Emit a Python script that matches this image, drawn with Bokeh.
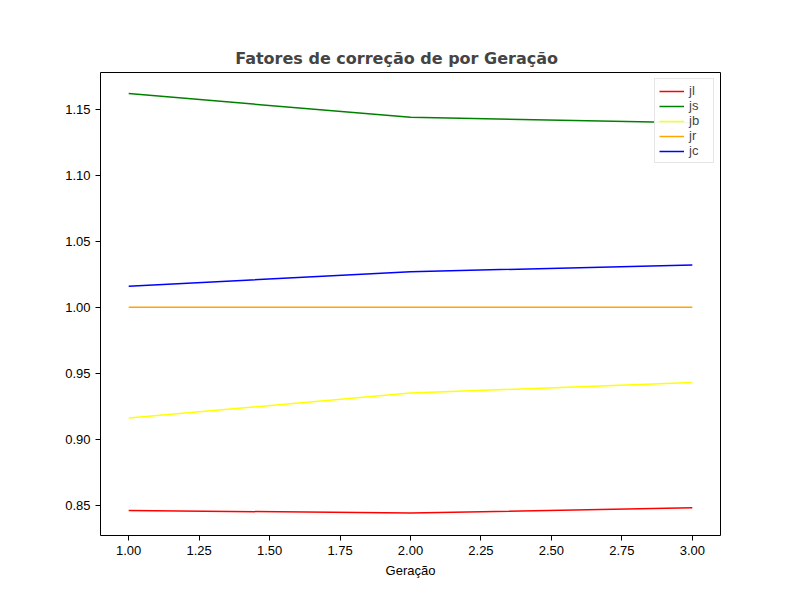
from bokeh.plotting import figure
from bokeh.models import FixedTicker, Label, Range1d, NumeralTickFormatter
from bokeh.embed import file_html
from bokeh.resources import INLINE

geracao = [1, 2, 3]
jl = [0.846, 0.844, 0.848]
js = [1.162, 1.144, 1.140]
jb = [0.916, 0.935, 0.943]
jr = [1.0, 1.0, 1.0]
jc = [1.016, 1.027, 1.032]

series = [("jl", jl, "red"), ("js", js, "green"), ("jb", jb, "yellow"),
          ("jr", jr, "orange"), ("jc", jc, "blue")]

H = 592
p = figure(width=792, height=H, output_backend="svg", toolbar_location=None,
           x_range=Range1d(0.9, 3.1), y_range=Range1d(0.827, 1.178),
           min_border_left=100, min_border_right=72, min_border_top=72, min_border_bottom=57)

for name, ys, c in series:
    p.line(geracao, ys, color=c, line_width=1.5, legend_label=name)

p.title.text = "Fatores de correção de      por Geração"
p.title.align = "center"
p.title.text_font = "DejaVu Sans"
p.title.text_font_size = "16px"
p.title.text_font_style = "bold"

p.xgrid.visible = False
p.ygrid.visible = False
p.xaxis.ticker = FixedTicker(ticks=[1, 1.25, 1.5, 1.75, 2, 2.25, 2.5, 2.75, 3])
p.yaxis.ticker = FixedTicker(ticks=[0.85, 0.9, 0.95, 1.0, 1.05, 1.1, 1.15])
p.xaxis.formatter = NumeralTickFormatter(format="0.00")
p.yaxis.formatter = NumeralTickFormatter(format="0.00")
p.xaxis.axis_label = "Geração"
p.xaxis.axis_label_text_font_style = "normal"
for ax in (p.xaxis, p.yaxis):
    ax.major_label_text_font_size = "13px"
    ax.axis_label_text_font_size = "13px"
    ax.major_label_text_color = "black"
    ax.axis_label_text_color = "black"
    ax.minor_tick_line_color = None
    ax.major_tick_out = 5
    ax.major_tick_in = 0
    ax.axis_line_color = None
p.outline_line_color = "black"

p.legend.location = "top_right"
p.legend.label_text_font_size = "13px"
p.legend.glyph_width = 25
p.legend.glyph_height = 14
p.legend.label_height = 14
p.legend.spacing = 0
p.legend.padding = 4
p.legend.margin = 6
p.legend.border_line_color = "#cccccc"

font = "DejaVu Sans"
p.add_layout(Label(x=444, y=H - 57, x_units="screen", y_units="screen", text="h",
                   text_font_style="italic", text_font_size="16px", text_font=font))
p.add_layout(Label(x=454, y=H - 61, x_units="screen", y_units="screen", text="c",
                   text_font_style="italic", text_font_size="11px", text_font=font))

open("out.html", "w").write(file_html(p, INLINE))
